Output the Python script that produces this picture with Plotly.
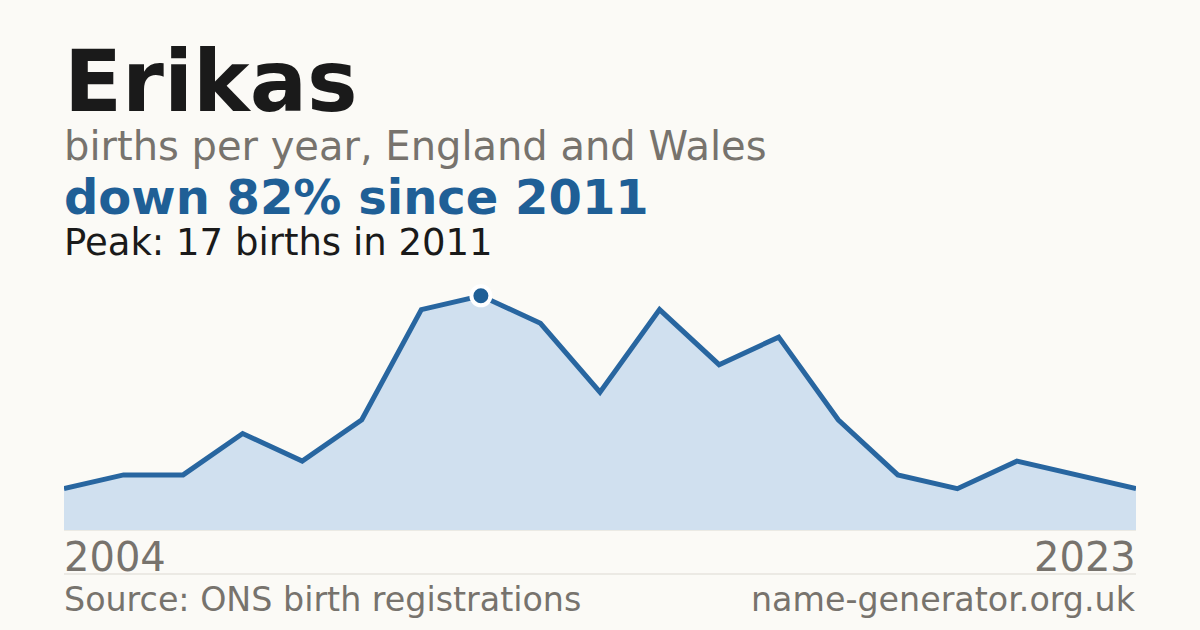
import plotly.graph_objects as go

# Data
years = [2004, 2005, 2006, 2007, 2008, 2009, 2010, 2011, 2012, 2013,
         2014, 2015, 2016, 2017, 2018, 2019, 2021, 2022, 2023]
births = [3, 4, 4, 7, 5, 8, 16, 17, 15, 10, 16, 12, 14, 8, 4, 3, 5, 4, 3]
name = "Erikas"
subtitle = "births per year, England and Wales"
source = "Source: ONS birth registrations"
site = "name-generator.org.uk"

peak_val = max(births)
peak_idx = births.index(peak_val)
peak_year = years[peak_idx]
change = round((1 - births[-1] / peak_val) * 100)

W, H = 1200, 630
ML, MR, MT, MB = 64, 64, 282, 100
PW = W - ML - MR
PH = H - MT - MB

def py(pix):
    return (H - MB - pix) / PH

BG = "#fbfaf6"
BLUE = "#1f5f96"
GRAY = "#77736d"
DARK = "#1a1a1a"
FONT = "DejaVu Sans"

xs = list(range(len(years)))

fig = go.Figure()
fig.add_trace(go.Scatter(
    x=xs, y=births, mode="lines", fill="tozeroy",
    fillcolor="#d0e0ef", line=dict(color="#2866a0", width=5),
    hoverinfo="skip", showlegend=False,
))
fig.add_trace(go.Scatter(
    x=[xs[peak_idx]], y=[peak_val], mode="markers",
    marker=dict(color=BLUE, size=19, line=dict(color="white", width=4)),
    hoverinfo="skip", showlegend=False, cliponaxis=False,
))

def ann(text, xanchor, ypix, size, color, bold=False):
    x = -2 / PW if xanchor == "left" else 1 + 2 / PW
    fig.add_annotation(
        text=f"<b>{text}</b>" if bold else text,
        x=x, y=py(ypix), xref="paper", yref="paper",
        xanchor=xanchor, yanchor="bottom", showarrow=False,
        font=dict(family=FONT, size=size, color=color),
    )

def bottom_of(baseline, size):
    return baseline + 0.236 * size + 1

ann(name, "left", bottom_of(112, 85), 85, DARK, bold=True)
ann(subtitle, "left", bottom_of(161, 40), 40, GRAY)
ann(f"down {change}% since {peak_year}", "left", bottom_of(215, 48), 48, BLUE, bold=True)
ann(f"Peak: {peak_val} births in {peak_year}", "left", bottom_of(256, 37), 37, DARK)
ann(str(years[0]), "left", bottom_of(572, 40), 40, GRAY)
ann(str(years[-1]), "right", bottom_of(572, 40), 40, GRAY)
ann(source, "left", bottom_of(612, 33.3), 33.3, GRAY)
ann(site, "right", bottom_of(612, 33.3), 33.3, GRAY)

fig.add_shape(type="line", xref="paper", yref="paper", x0=0, x1=1,
              y0=py(574), y1=py(574), line=dict(color="#dcd9d2", width=1))
fig.add_shape(type="line", xref="paper", yref="paper", x0=0, x1=1,
              y0=0, y1=0, line=dict(color="#dcd9d2", width=1), layer="below")

fig.update_layout(
    width=W, height=H,
    margin=dict(l=ML, r=MR, t=MT, b=MB),
    paper_bgcolor=BG, plot_bgcolor=BG,
    xaxis=dict(range=[0, len(years) - 1], visible=False, fixedrange=True),
    yaxis=dict(range=[0, 18], visible=False, fixedrange=True),
    showlegend=False,
)

fig.write_html(
    "out.html",
    config={"displayModeBar": False},
    post_script=f"document.body.style.margin='0';document.body.style.background='{BG}';",
)
